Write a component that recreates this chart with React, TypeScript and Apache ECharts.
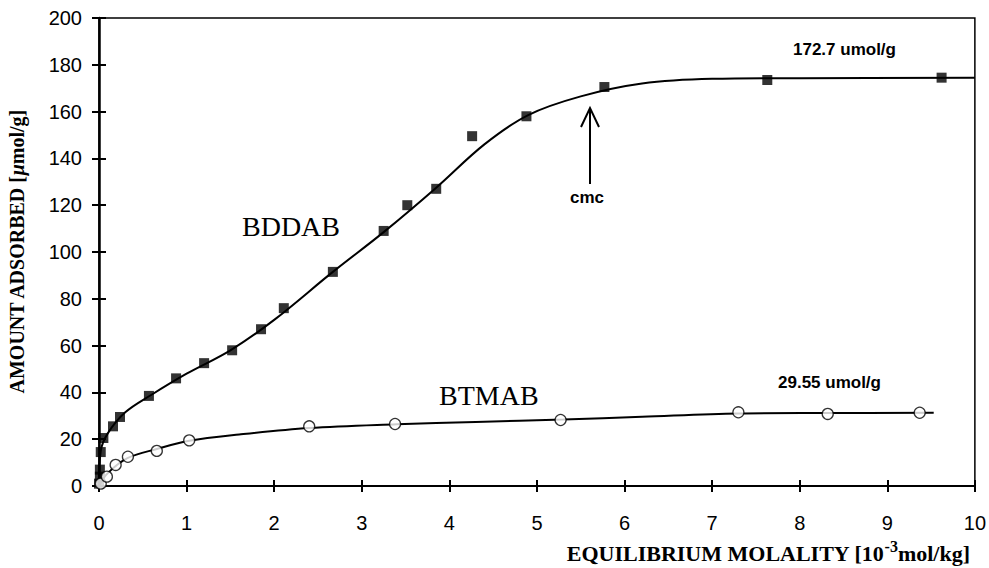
import React, { useEffect, useRef } from "react";
import * as echarts from "echarts";

// BDDAB measured points (filled squares)
const bddabX = [0.0, 0.01, 0.01, 0.02, 0.05, 0.16, 0.24, 0.57, 0.88, 1.2, 1.52, 1.85, 2.11, 2.67, 3.25, 3.52, 3.85, 4.26, 4.88, 5.77, 7.63, 9.62];
const bddabY = [1, 4, 7, 14.5, 20.5, 25.5, 29.5, 38.5, 46, 52.5, 58, 67, 76, 91.5, 109, 120, 127, 149.5, 158, 170.5, 173.5, 174.5];
// BDDAB fitted curve
const bddabFitX = [0, 0.02, 0.1, 0.3, 0.6, 1.0, 1.5, 2.0, 2.67, 3.25, 3.85, 4.4, 4.9, 5.5, 6.2, 7.0, 8.0, 10.0];
const bddabFitY = [0, 15, 22.5, 31.5, 39, 48, 58, 71, 91.5, 108.5, 127.5, 146, 158.5, 166.5, 172, 174, 174.3, 174.5];

// BTMAB measured points (open circles)
const btmabX = [0.02, 0.09, 0.19, 0.33, 0.66, 1.03, 2.4, 3.38, 5.27, 7.3, 8.32, 9.37];
const btmabY = [1, 4, 9, 12.5, 15, 19.5, 25.5, 26.5, 28.2, 31.5, 30.8, 31.3];
// BTMAB fitted curve
const btmabFitX = [0, 0.1, 0.33, 0.66, 1.03, 1.6, 2.4, 3.4, 4.3, 5.3, 6.2, 7.3, 8.3, 9.53];
const btmabFitY = [0, 5.5, 12, 15.8, 19.3, 22, 24.8, 26.4, 27.4, 28.4, 29.6, 31.0, 31.2, 31.3];

const xMin = 0, xMax = 10, xStep = 1;
const yMin = 0, yMax = 200, yStep = 20;

const pair = (xs: number[], ys: number[]) => xs.map((x, i) => [x, ys[i]]);

export default function App() {
  const ref = useRef<HTMLDivElement>(null);
  useEffect(() => {
    if (!ref.current) return;
    const chart = echarts.init(ref.current, null, { renderer: "svg" });
    const tickFont = { color: "#000", fontFamily: "Liberation Sans, Arial, sans-serif", fontSize: 20 };
    const serif = "Liberation Serif, Times New Roman, serif";
    const sans = "Liberation Sans, Arial, sans-serif";
    const baseX = {
      type: "value", min: xMin, max: xMax, interval: xStep, gridIndex: 0,
      splitLine: { show: false },
    };
    const baseY = {
      type: "value", min: yMin, max: yMax, interval: yStep, gridIndex: 0,
      splitLine: { show: false },
    };
    chart.setOption({
      animation: false,
      backgroundColor: "#fff",
      grid: { left: 99, right: 12, top: 18, bottom: 82, show: true, borderColor: "#000", borderWidth: 1.5, backgroundColor: "transparent" },
      xAxis: [
        { ...baseX, position: "bottom", axisLine: { lineStyle: { color: "#000", width: 2 } },
          axisTick: { show: true, inside: false, length: 6, lineStyle: { color: "#000", width: 2 } },
          axisLabel: { ...tickFont, margin: 27 } },
        { ...baseX, position: "bottom", axisLine: { show: false },
          axisTick: { show: true, inside: true, length: 6, lineStyle: { color: "#000", width: 2 } },
          axisLabel: { show: false } },
      ],
      yAxis: [
        { ...baseY, position: "left", axisLine: { show: true, lineStyle: { color: "#000", width: 2.5 } },
          axisTick: { show: true, inside: false, length: 7, lineStyle: { color: "#000", width: 2 } },
          axisLabel: { ...tickFont, margin: 17 } },
        { ...baseY, position: "left", axisLine: { show: false },
          axisTick: { show: true, inside: true, length: 7, lineStyle: { color: "#000", width: 2 } },
          axisLabel: { show: false } },
      ],
      series: [
        { name: "BDDAB fit", type: "line", data: pair(bddabFitX, bddabFitY), smooth: 0.35,
          showSymbol: false, lineStyle: { color: "#000", width: 2 }, z: 2 },
        { name: "BTMAB fit", type: "line", data: pair(btmabFitX, btmabFitY), smooth: 0.35,
          showSymbol: false, lineStyle: { color: "#000", width: 2 }, z: 2 },
        { name: "BDDAB", type: "scatter", data: pair(bddabX, bddabY), symbol: "rect", symbolSize: 10,
          itemStyle: { color: "#000" }, z: 3 },
        { name: "BTMAB", type: "scatter", data: pair(btmabX, btmabY), symbol: "circle", symbolSize: 11,
          itemStyle: { color: "#fff", borderColor: "#000", borderWidth: 1.3 }, z: 3 },
      ],
      graphic: [
        { type: "text", left: 242, top: 212, style: { text: "BDDAB", fontFamily: serif, fontSize: 28, fill: "#000" } },
        { type: "text", left: 439, top: 381, style: { text: "BTMAB", fontFamily: serif, fontSize: 28, fill: "#000" } },
        { type: "text", left: 570, top: 189, style: { text: "cmc", fontFamily: sans, fontWeight: "bold", fontSize: 17, fill: "#000" } },
        { type: "text", left: 793, top: 41, style: { text: "172.7 umol/g", fontFamily: sans, fontWeight: "bold", fontSize: 17, fill: "#000" } },
        { type: "text", left: 778, top: 374, style: { text: "29.55 umol/g", fontFamily: sans, fontWeight: "bold", fontSize: 17, fill: "#000" } },
        { type: "line", shape: { x1: 590, y1: 184, x2: 590, y2: 108 }, style: { stroke: "#000", lineWidth: 2 } },
        { type: "polyline", shape: { points: [[581, 127], [590, 108], [599, 127]] }, style: { stroke: "#000", lineWidth: 2, fill: null } },
        {
          type: "text", x: 17, y: 252, rotation: Math.PI / 2, originX: 0, originY: 0,
          style: {
            text: "{b|AMOUNT ADSORBED [}{i|μ}{b|mol/g]}",
            align: "center", verticalAlign: "middle",
            rich: {
              b: { fontFamily: serif, fontWeight: "bold", fontSize: 20, fill: "#000" },
              i: { fontFamily: serif, fontWeight: "bold", fontStyle: "italic", fontSize: 20, fill: "#000" },
            },
          },
        },
        {
          type: "text", right: 19, top: 538,
          style: {
            text: "{b|EQUILIBRIUM MOLALITY [10}{s|-3}{b|mol/kg]}",
            rich: {
              b: { fontFamily: serif, fontWeight: "bold", fontSize: 22, fill: "#000", verticalAlign: "bottom", lineHeight: 26 },
              s: { fontFamily: serif, fontWeight: "bold", fontSize: 16, fill: "#000", verticalAlign: "top", lineHeight: 26 },
            },
          },
        },
      ],
    });
    return () => chart.dispose();
  }, []);
  return <div ref={ref} style={{ width: 989, height: 568, position: "absolute", left: 0, top: 0 }} />;
}
